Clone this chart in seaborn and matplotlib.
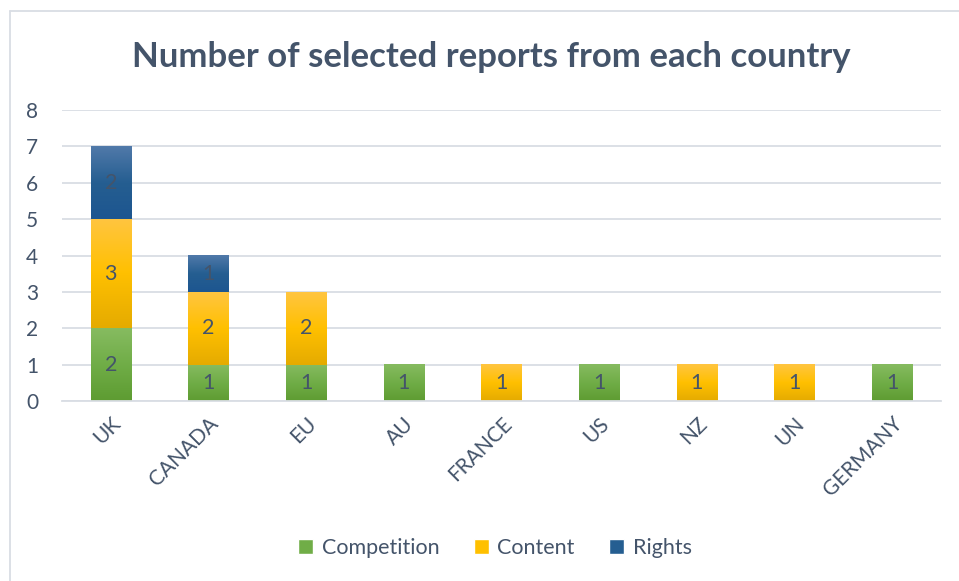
import numpy as np
import pandas as pd
import matplotlib
matplotlib.use("Agg")
import matplotlib.pyplot as plt
import seaborn as sns
from matplotlib.colors import LinearSegmentedColormap
from matplotlib.patches import Patch

# Data
countries = ["UK", "CANADA", "EU", "AU", "FRANCE", "US", "NZ", "UN", "GERMANY"]
competition = [2, 1, 1, 1, 0, 1, 0, 0, 1]
content = [3, 2, 2, 0, 1, 0, 1, 1, 0]
rights = [2, 1, 0, 0, 0, 0, 0, 0, 0]

series = ["Competition", "Content", "Rights"]
# (top, bottom) colours of the gradient fill
grad = {
    "Competition": ("#86bb60", "#5e9c32"),
    "Content": ("#ffc540", "#e5ab00"),
    "Rights": ("#5079a9", "#1d5690"),
}
solid = {"Competition": "#70ad47", "Content": "#ffc000", "Rights": "#255e91"}

text_col = "#44546a"

df = pd.DataFrame({"country": countries, "Competition": competition,
                   "Content": content, "Rights": rights})

sns.set_theme(style="white")
plt.rcParams["font.family"] = ["Lato", "DejaVu Sans"]

fig = plt.figure(figsize=(9.59, 5.81), dpi=100)
ax = fig.add_axes([62 / 959, 1 - 401 / 581, (941 - 62) / 959, (401 - 110) / 581])

bottom = np.zeros(len(countries))
for s in series:
    vals = df[s].values
    sns.barplot(x=df["country"], y=vals, bottom=bottom, color=solid[s],
                width=0.41, ax=ax, saturation=1, linewidth=0)
    bottom = bottom + vals

# replace flat fills with vertical gradients, and add value labels
bottom = np.zeros(len(countries))
for s in series:
    vals = df[s].values
    cmap = LinearSegmentedColormap.from_list(s, [grad[s][1], solid[s], grad[s][0]])
    for i, v in enumerate(vals):
        if v > 0:
            x0 = i - 0.205
            x1 = i + 0.205
            y0 = bottom[i]
            y1 = bottom[i] + v
            g = np.linspace(0, 1, 64).reshape(-1, 1)
            ax.imshow(g, cmap=cmap, origin="lower", aspect="auto",
                      extent=[x0, x1, y0, y1], zorder=2)
            ax.text(i, (y0 + y1) / 2, str(v), ha="center", va="center",
                    fontsize=15.5, color=text_col, zorder=3)
    bottom = bottom + vals
for p in ax.patches:
    p.set_visible(False)

ax.set_xlim(-0.5, len(countries) - 0.5)
ax.set_ylim(0, 8)
ax.set_yticks(range(0, 9))
ax.yaxis.grid(True, color="#d9dde4", linewidth=1.3)
ax.set_axisbelow(True)
for sp in ["top", "right", "left"]:
    ax.spines[sp].set_visible(False)
ax.spines["bottom"].set_color("#d9dde4")
ax.spines["bottom"].set_linewidth(1.3)
ax.tick_params(axis="both", length=0, colors=text_col, labelsize=15)
ax.tick_params(axis="y", pad=17)
ax.set_xticks(range(len(countries)))
ax.set_xticklabels(countries, rotation=45, ha="right", rotation_mode="anchor")
ax.tick_params(axis="x", pad=9)
ax.set_xlabel("")
ax.set_ylabel("")

fig.text(491 / 959, 1 - 57 / 581, "Number of selected reports from each country",
         ha="center", va="center", fontsize=25, fontweight="bold", color=text_col)

handles = [Patch(facecolor=solid[s], label=s) for s in series]
fig.legend(handles=handles, loc="center", bbox_to_anchor=(495 / 959, 1 - 548 / 581),
           ncol=3, frameon=False, fontsize=15.5, handlelength=0.7, handleheight=0.7,
           columnspacing=1.6, handletextpad=0.4, labelcolor=text_col)

# chart border (left and top edges visible in the original)
fig.add_artist(plt.Line2D([10 / 959, 10 / 959], [0, 1 - 11 / 581], color="#d9dde4",
                          linewidth=1.3, transform=fig.transFigure))
fig.add_artist(plt.Line2D([10 / 959, 1], [1 - 11 / 581, 1 - 11 / 581], color="#d9dde4",
                          linewidth=1.3, transform=fig.transFigure))

fig.savefig("out.png", dpi=100)
